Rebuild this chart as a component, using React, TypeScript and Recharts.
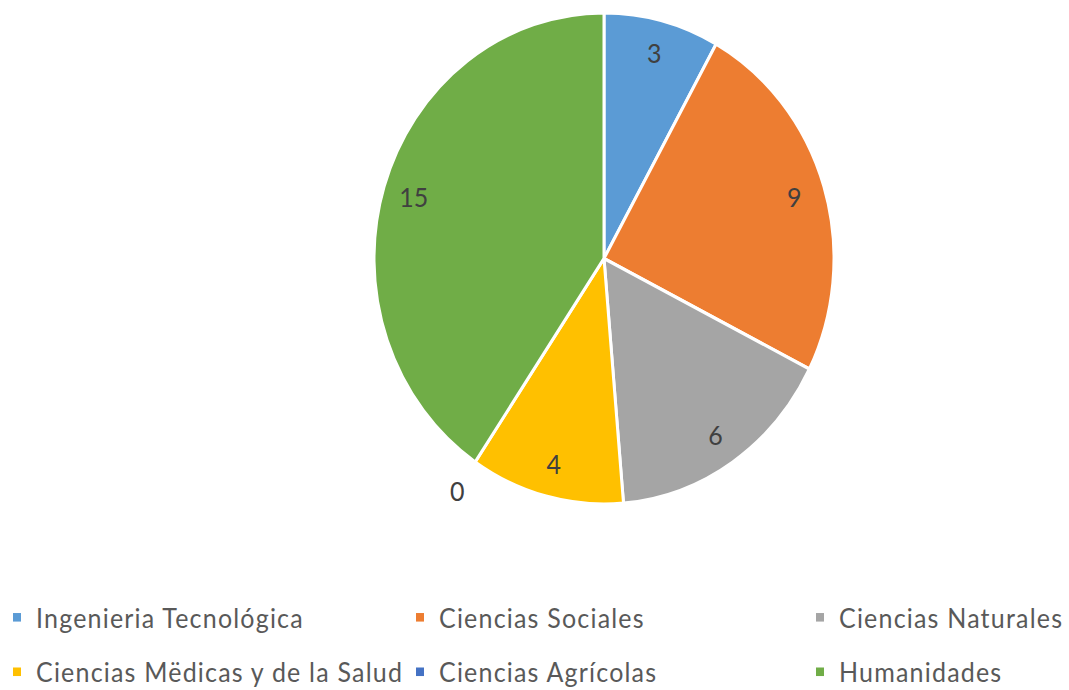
import { PieChart, Pie, Cell, Legend } from "recharts";

const CATEGORIES = [
  "Ingenieria Tecnológica",
  "Ciencias Sociales",
  "Ciencias Naturales",
  "Ciencias Mëdicas y de la Salud",
  "Ciencias Agrícolas",
  "Humanidades",
];
const VALUES = [3, 9, 6, 4, 0, 15];
const COLORS = ["#5B9BD5", "#ED7D31", "#A5A5A5", "#FFC000", "#4472C4", "#70AD47"];

const data = CATEGORIES.map((name, i) => ({ name, value: VALUES[i] }));

const FONT = "Lato, 'Open Sans', sans-serif";
const RAD = Math.PI / 180;

// excel-ish best fit: inside the slice, zero slices pushed outside
const renderLabel = (props: any) => {
  const { cx, cy, midAngle, outerRadius, value } = props;
  const r = value === 0 ? outerRadius + 32 : outerRadius * 0.865;
  const x = cx + r * Math.cos(-midAngle * RAD);
  const y = cy + r * Math.sin(-midAngle * RAD);
  return (
    <text
      x={x}
      y={y}
      fill="#404040"
      fontSize={25}
      fontFamily={FONT}
      textAnchor="middle"
      dominantBaseline="central"
    >
      {value}
    </text>
  );
};

const renderLegend = () => (
  <div
    style={{
      display: "grid",
      gridTemplateColumns: "403px 400px 266px",
      rowGap: 21,
      fontFamily: FONT,
      fontSize: 25,
      lineHeight: "30px",
      color: "#595959",
      letterSpacing: 1.2,
    }}
  >
    {data.map((d, i) => (
      <div key={d.name} style={{ display: "flex", alignItems: "center", paddingLeft: 13, whiteSpace: "nowrap" }}>
        <span style={{ width: 8, height: 8, background: COLORS[i], marginRight: 15, display: "inline-block", flexShrink: 0 }} />
        {d.name}
      </div>
    ))}
  </div>
);

export default function App() {
  return (
    <div
      style={{
        position: "absolute",
        left: 0,
        top: 0,
        width: 1069,
        height: 646,
        background: "#fff",
        transform: "scale(1, 1.068)",
        transformOrigin: "0 0",
      }}
    >
      <PieChart width={1069} height={646}>
        <Pie
          data={data}
          dataKey="value"
          nameKey="name"
          cx={599}
          cy={237}
          outerRadius={230}
          startAngle={90}
          endAngle={-270}
          stroke="#fff"
          strokeWidth={3}
          label={renderLabel}
          labelLine={false}
          isAnimationActive={false}
        >
          {data.map((_, i) => (
            <Cell key={`cell-${i}`} fill={COLORS[i]} />
          ))}
        </Pie>
        <Legend content={renderLegend} wrapperStyle={{ left: 0, top: 563, width: 1069 }} />
      </PieChart>
    </div>
  );
}
